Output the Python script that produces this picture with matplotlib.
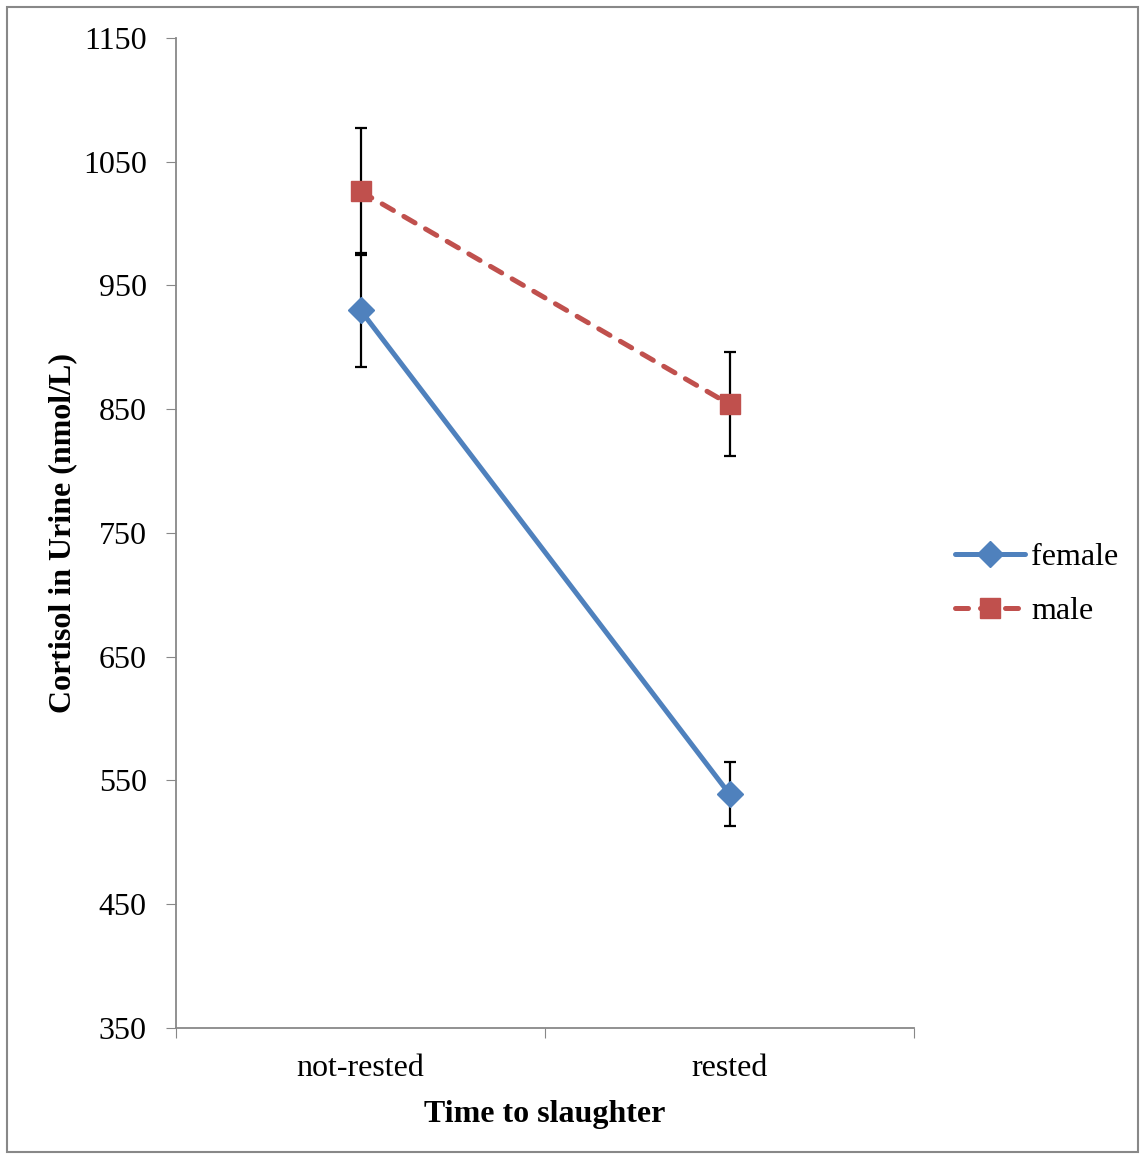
import matplotlib.pyplot as plt
from matplotlib.patches import Rectangle

# data
groups = ['not-rested', 'rested']
female = [930, 539]
female_err = [46, 26]
male = [1026, 854]
male_err = [51, 42]

yticks = [350, 450, 550, 650, 750, 850, 950, 1050, 1150]

plt.rcParams['font.family'] = ['Liberation Serif', 'DejaVu Serif']

fig = plt.figure(figsize=(11.4, 11.55), dpi=100)
ax = fig.add_axes([0.1544, 0.1100, 0.6474, 0.8571])

x = list(range(len(groups)))
blue = '#4F81BD'
red = '#C0504D'

ax.errorbar(x, female, yerr=female_err, fmt='none', ecolor='black',
            elinewidth=1.6, capsize=4.5, capthick=1.6, zorder=2)
ax.errorbar(x, male, yerr=male_err, fmt='none', ecolor='black',
            elinewidth=1.6, capsize=4.5, capthick=1.6, zorder=2)

ax.plot(x, female, color=blue, lw=3.6, marker='D', ms=13,
        solid_capstyle='round', label='female', zorder=3)
ax.plot(x, male, color=red, lw=3.6, marker='s', ms=14,
        linestyle=(0, (2.6, 2.4)), dash_capstyle='round',
        label='male', zorder=3)

ax.set_xlim(-0.5, 1.5)
ax.set_ylim(350, 1150)
ax.set_yticks(yticks)
ax.set_xticks([-0.5, 0.5, 1.5])
ax.set_xticklabels([])
ax.set_xticks(x, minor=True)
ax.set_xticklabels(groups, minor=True)
ax.tick_params(axis='x', which='minor', length=0, pad=19, labelsize=23)
ax.tick_params(axis='x', which='major', length=7, color='#888888')
ax.tick_params(axis='y', length=7, color='#888888', labelsize=23, pad=14)

for s in ['top', 'right']:
    ax.spines[s].set_visible(False)
for s in ['left', 'bottom']:
    ax.spines[s].set_color('#888888')
    ax.spines[s].set_linewidth(1.3)

ax.set_ylabel('Cortisol in Urine (nmol/L)', fontsize=23, fontweight='bold', labelpad=4)
ax.set_xlabel('Time to slaughter', fontsize=23, fontweight='bold', labelpad=12)

ax.legend(loc='center left', bbox_to_anchor=(1.055, 0.448), frameon=False,
          fontsize=23, handlelength=2.2, handletextpad=0.2, labelspacing=0.75,
          borderpad=0, borderaxespad=0)

# outer chart border
fig.patches.append(Rectangle((7 / 1140, 3 / 1155), 1131 / 1140, 1145 / 1155,
                             transform=fig.transFigure, fill=False,
                             edgecolor='#888888', lw=1.5))

fig.savefig('out.png', dpi=100)
